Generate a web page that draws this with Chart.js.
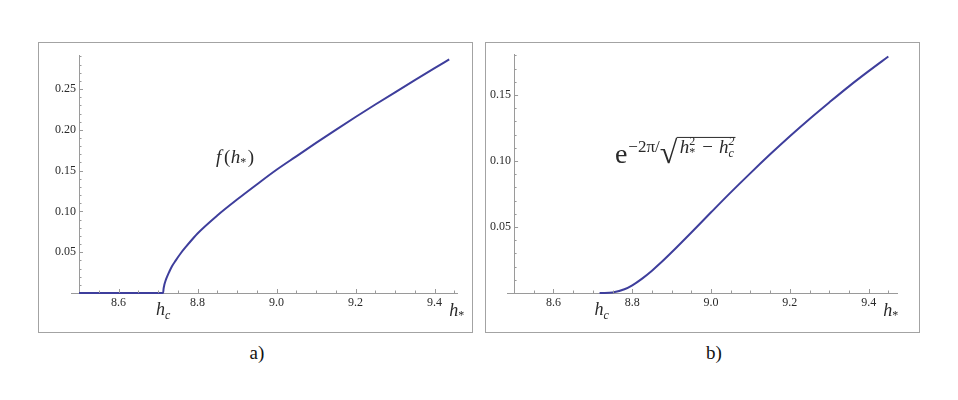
<!DOCTYPE html>
<html>
<head>
<meta charset="utf-8">
<script src="https://cdn.jsdelivr.net/npm/chart.js@4/dist/chart.umd.min.js"></script>
<style>
 body { margin:0; background:#fff; width:958px; height:400px; position:relative; overflow:hidden; font-family:"Liberation Serif", "Times New Roman", serif; }
 .frame { position:absolute; top:42px; width:435px; height:291px; border:1px solid #a3a3a3; box-sizing:border-box; }
 canvas { position:absolute; top:42px; }
 .cap { position:absolute; top:342px; font-size:19px; color:#111; width:40px; text-align:center; }
</style>
</head>
<body>
<div class="frame" style="left:38px"></div>
<div class="frame" style="left:485px"></div>
<canvas id="chartA" width="434" height="290" style="left:38px"></canvas>
<canvas id="chartB" width="434" height="290" style="left:485px"></canvas>
<div class="cap" style="left:237px">a)</div>
<div class="cap" style="left:694px">b)</div>
<script>
// a) f(h*)
const hA = [8.50, 8.713, 8.714, 8.716, 8.719, 8.723, 8.728, 8.735, 8.745, 8.758, 8.773, 8.788, 8.80, 8.85, 8.90, 8.95, 9.00, 9.05, 9.10, 9.15, 9.20, 9.25, 9.30, 9.35, 9.40, 9.437];
const fA = [0, 0, 0.005, 0.010, 0.015, 0.020, 0.0255, 0.0325, 0.040, 0.049, 0.058, 0.0665, 0.073, 0.095, 0.1145, 0.133, 0.151, 0.1675, 0.184, 0.200, 0.2157, 0.231, 0.246, 0.2608, 0.2755, 0.2863];

// b) exp(-2pi / sqrt(h*^2 - hc^2))
const hB = [8.717, 8.73, 8.75, 8.78, 8.80, 8.825, 8.85, 8.875, 8.90, 8.95, 9.00, 9.05, 9.10, 9.15, 9.20, 9.25, 9.30, 9.35, 9.40, 9.45];
const fB = [0, 0, 0.0003, 0.0028, 0.0058, 0.0109, 0.0169, 0.0236, 0.0308, 0.0458, 0.0611, 0.0762, 0.0908, 0.1050, 0.1187, 0.1318, 0.1443, 0.1565, 0.1680, 0.1791];

const xTicks = [8.6, 8.8, 9.0, 9.2, 9.4];
const yTicksA = [0.05, 0.10, 0.15, 0.20, 0.25];
const yTicksB = [0.05, 0.10, 0.15];

const BLUE = '#3e3e9c';
const AXIS = '#9a9a9a';
const TEXT = '#2a2a2a';
const SERIF = '"Liberation Serif", "Times New Roman", serif';
const it = s => 'italic ' + s + 'px ' + SERIF;
const rm = s => s + 'px ' + SERIF;

// parts: {gap} or {f, s: [[text, dy], ...]} (stacked sub/sup share x)
function seq(ctx, x, y, parts, draw) {
  for (const p of parts) {
    if (p.gap) { x += p.gap; continue; }
    ctx.font = p.f;
    let w = 0;
    for (const [t, dy] of p.s) {
      if (draw) ctx.fillText(t, x, y + dy);
      w = Math.max(w, ctx.measureText(t).width);
    }
    x += w;
  }
  return x;
}

// minor/major tick marks of the Mathematica style axes
function axisTicks(chart) {
  const {ctx, scales: {x, y}} = chart;
  const rowX = y.getPixelForValue(0);
  const colY = x.getPixelForValue(8.5);
  ctx.save();
  ctx.strokeStyle = AXIS;
  ctx.lineWidth = 1;
  ctx.beginPath();
  for (let i = 1; 8.5 + i * 0.05 <= x.max + 1e-9; i++) {
    const px = Math.round(x.getPixelForValue(8.5 + i * 0.05)) + 0.5;
    const len = (i % 4 === 2) ? 4 : 2.5;
    ctx.moveTo(px, rowX);
    ctx.lineTo(px, rowX - len);
  }
  for (let i = 1; i * 0.01 <= y.max + 1e-9; i++) {
    const py = Math.round(y.getPixelForValue(i * 0.01)) + 0.5;
    const len = (i % 5 === 0) ? 4 : 2.5;
    ctx.moveTo(colY, py);
    ctx.lineTo(colY + len, py);
  }
  ctx.stroke();
  ctx.restore();
}

function hLabels(ctx, chart, hc) {
  const {x, y} = chart.scales;
  const base = y.getPixelForValue(0) + 22;
  const hcParts = [{f: it(18), s: [['h', 0]]}, {f: it(12), s: [['c', 4]]}];
  const w = seq(ctx, 0, 0, hcParts, false);
  seq(ctx, x.getPixelForValue(hc) - w / 2, base, hcParts, true);
  seq(ctx, x.getPixelForValue(9.437), base + 1, [{f: it(18), s: [['h', 0]]}, {f: rm(12), s: [['*', 3]]}], true);
}

function makeChart(id, xs, ys, opt) {
  const annot = {
    id: 'annot' + id,
    afterDraw(chart) {
      const ctx = chart.ctx;
      axisTicks(chart);
      ctx.save();
      ctx.fillStyle = TEXT;
      ctx.textAlign = 'left';
      ctx.textBaseline = 'alphabetic';
      opt.annotate(ctx, chart);
      ctx.restore();
    }
  };
  return new Chart(document.getElementById(id), {
    type: 'line',
    data: {
      datasets: [{
        data: xs.map((v, i) => ({x: v, y: ys[i]})),
        borderColor: BLUE,
        borderWidth: 2,
        pointRadius: 0,
        cubicInterpolationMode: 'monotone',
        clip: false
      }]
    },
    options: {
      responsive: false,
      animation: false,
      layout: {padding: opt.padding},
      plugins: {legend: {display: false}, tooltip: {enabled: false}},
      scales: {
        x: {
          type: 'linear',
          min: opt.xMin, max: opt.xMax,
          position: {y: 0},
          grid: {display: false, drawTicks: false},
          border: {display: true, color: AXIS, width: 1},
          afterBuildTicks: s => { s.ticks = xTicks.map(v => ({value: v})); },
          ticks: {padding: 3, color: TEXT, font: {family: SERIF, size: 12}, callback: v => v.toFixed(1)}
        },
        y: {
          type: 'linear',
          min: 0, max: opt.yMax,
          position: {x: 8.5},
          grid: {display: false, drawTicks: false},
          border: {display: true, color: AXIS, width: 1},
          afterBuildTicks: s => { s.ticks = opt.yTicks.map(v => ({value: v})); },
          ticks: {color: TEXT, font: {family: SERIF, size: 12}, callback: v => v.toFixed(2) + ' '}
        }
      }
    },
    plugins: [annot]
  });
}

makeChart('chartA', hA, fA, {
  xMin: 8.481, xMax: 9.458, yMax: 0.2917, yTicks: yTicksA,
  padding: {left: 33.5, right: 14.5, top: 13, bottom: 39},
  annotate(ctx, chart) {
    const {x, y} = chart.scales;
    seq(ctx, x.getPixelForValue(8.847), y.getPixelForValue(0.159), [
      {f: it(19), s: [['f', 0]]}, {gap: 2.5},
      {f: rm(19), s: [['(', 0]]}, {gap: 0.5},
      {f: it(19), s: [['h', 0]]},
      {f: rm(12), s: [['*', 3]]}, {gap: 1.5},
      {f: rm(19), s: [[')', 0]]}
    ], true);
    hLabels(ctx, chart, 8.713);
  }
});

makeChart('chartB', hB, fB, {
  xMin: 8.482, xMax: 9.472, yMax: 0.181, yTicks: yTicksB,
  padding: {left: 22, right: 22, top: 12, bottom: 39},
  annotate(ctx, chart) {
    const {x, y} = chart.scales;
    const x0 = x.getPixelForValue(8.756);
    const base = y.getPixelForValue(0.0985);
    let cx = seq(ctx, x0, base, [
      {f: rm(28), s: [['e', 0]]}, {gap: 1},
      {f: rm(17), s: [['\u22122\u03c0/', -11]]}
    ], true);
    // radical sign sized to span the overline height
    ctx.font = rm(100);
    const m = ctx.measureText('\u221a');
    const size = 100 * 26 / (m.actualBoundingBoxAscent + m.actualBoundingBoxDescent);
    ctx.font = rm(size);
    const mr = ctx.measureText('\u221a');
    const top = base - 26;
    ctx.fillText('\u221a', cx, top + mr.actualBoundingBoxAscent);
    const rx = cx + mr.actualBoundingBoxRight;
    cx = rx + 2;
    const end = seq(ctx, cx, base - 10, [
      {f: it(19), s: [['h', 0]]},
      {f: rm(12), s: [['*', 3], ['2', -8]]}, {gap: 7},
      {f: rm(19), s: [['\u2212', 0]]}, {gap: 6},
      {f: it(19), s: [['h', 0]]},
      {f: it(12), s: [['c', 4], ['2', -8]]}
    ], true);
    ctx.strokeStyle = TEXT;
    ctx.lineWidth = 1;
    ctx.beginPath();
    ctx.moveTo(rx - 1, top + 0.5);
    ctx.lineTo(end + 1, top + 0.5);
    ctx.stroke();
    hLabels(ctx, chart, 8.722);
  }
});
</script>
</body>
</html>
